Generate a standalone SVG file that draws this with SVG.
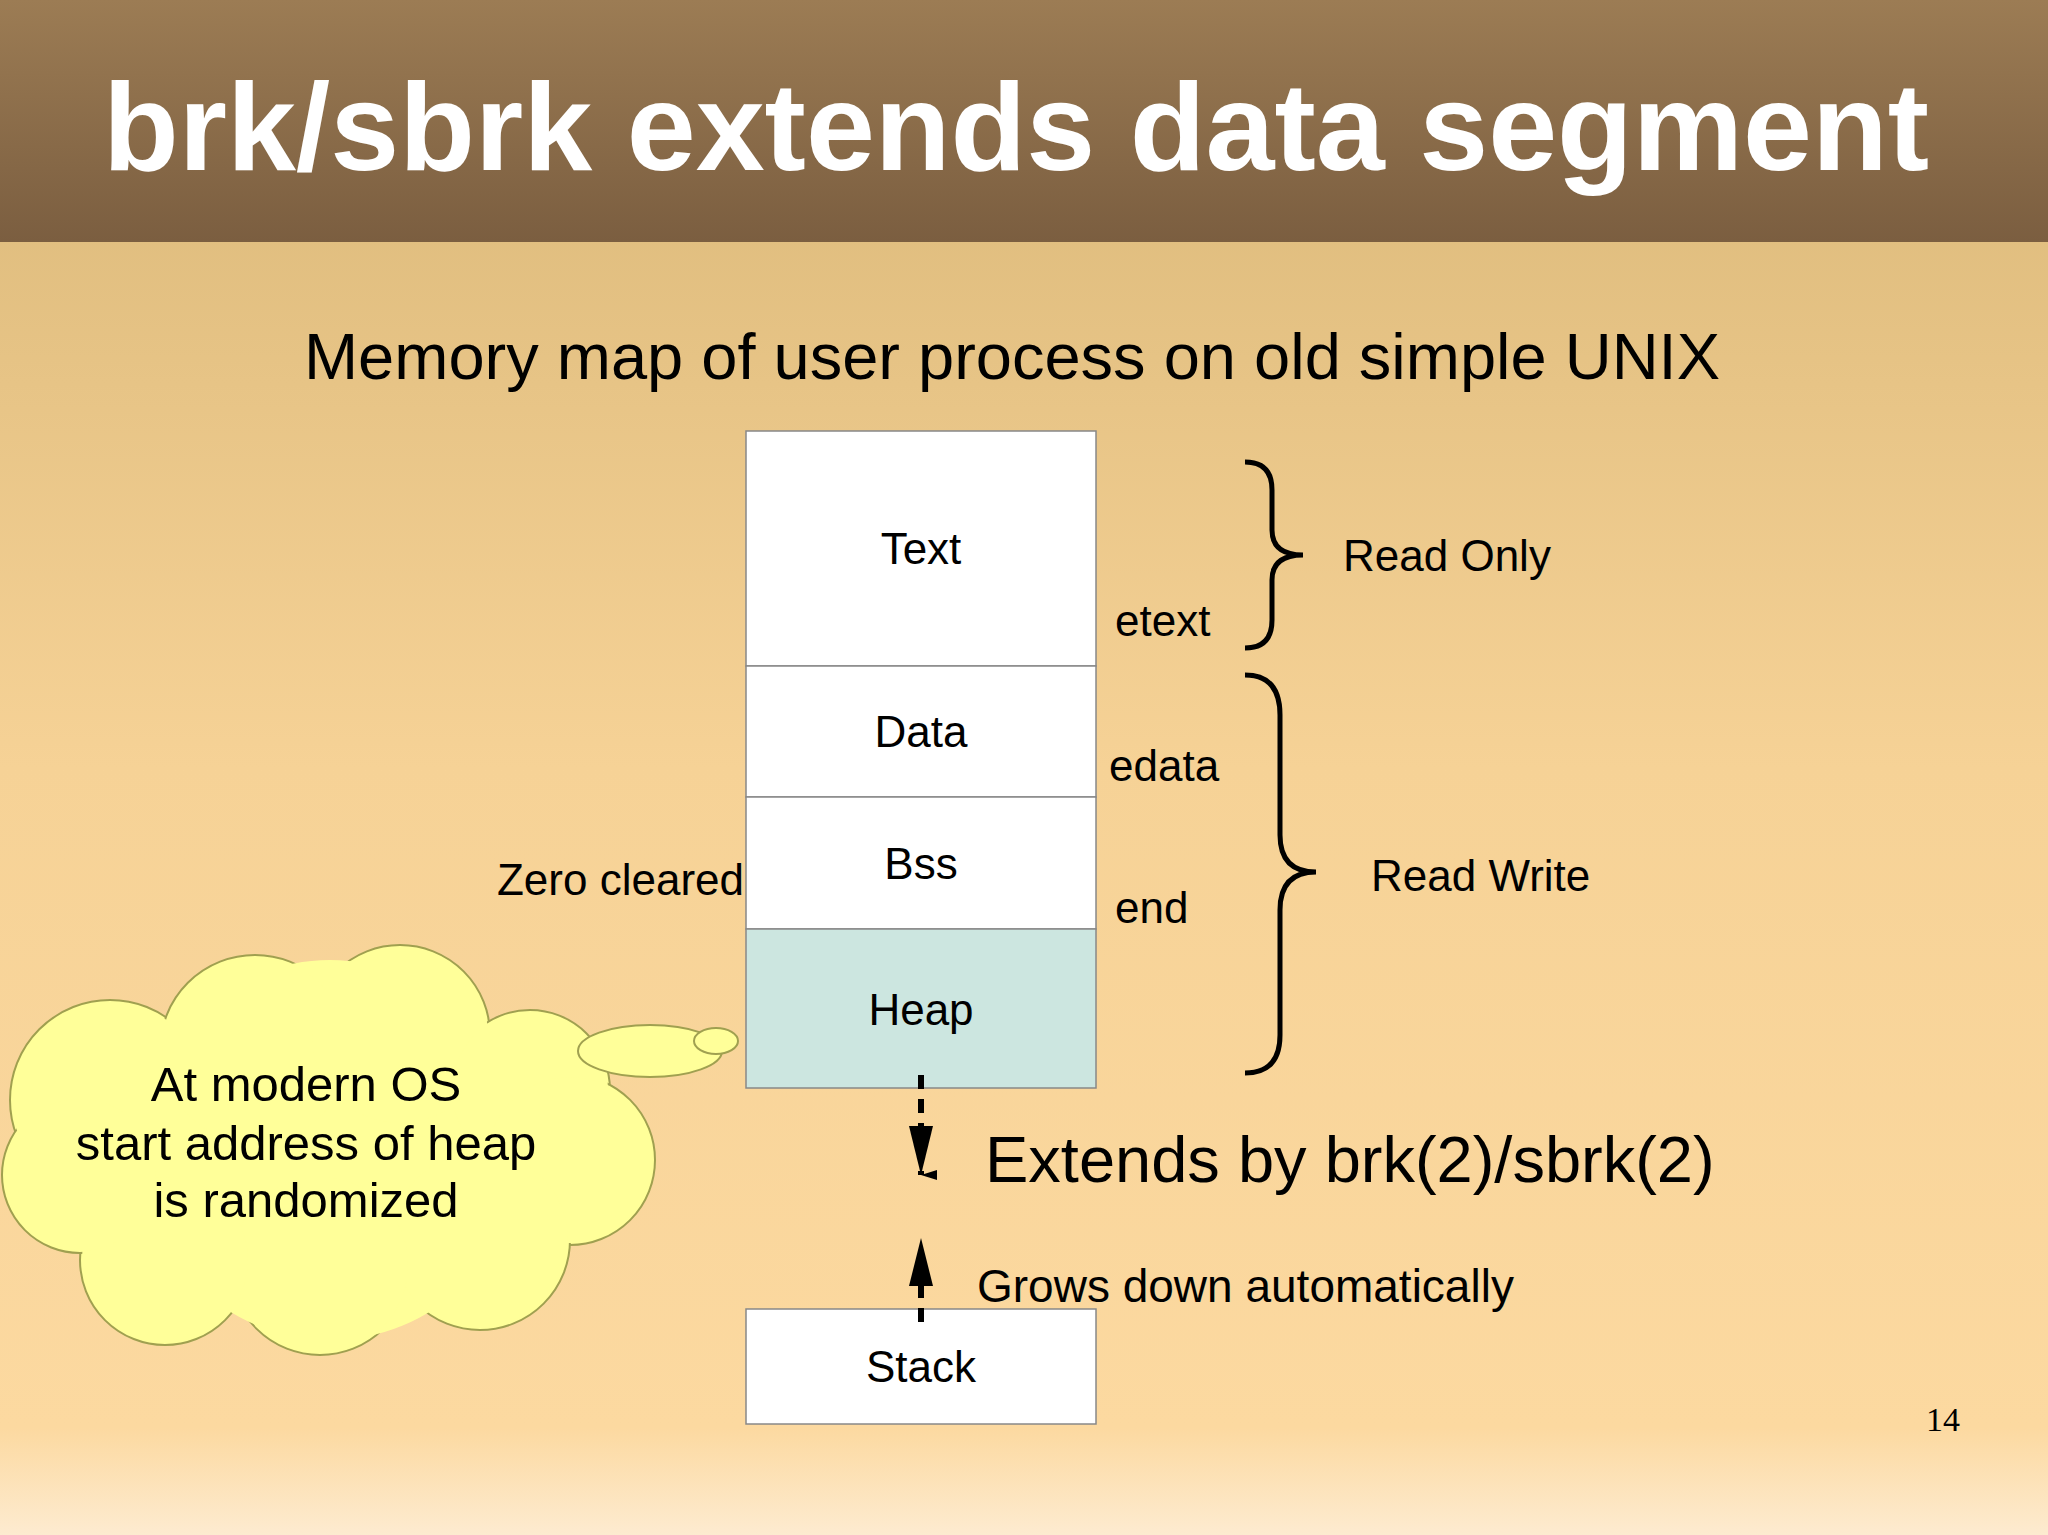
<svg xmlns="http://www.w3.org/2000/svg" width="2048" height="1535" viewBox="0 0 2048 1535">
<defs>
<linearGradient id="bg" x1="0" y1="0" x2="0" y2="1"><stop offset="0" stop-color="#d8b676"/><stop offset="0.5" stop-color="#f6d296"/><stop offset="0.93" stop-color="#fcd9a0"/><stop offset="1" stop-color="#fdebd0"/></linearGradient>
<linearGradient id="hd" x1="0" y1="0" x2="0" y2="1"><stop offset="0" stop-color="#9c7c54"/><stop offset="1" stop-color="#7b5e40"/></linearGradient>
<marker id="ah" markerWidth="10" markerHeight="16" refX="5" refY="16" orient="auto" markerUnits="userSpaceOnUse" viewBox="0 0 10 16"><path d="M0,0 L10,0 L5,16 Z" fill="#000"/></marker>
</defs>
<style>
text{font-family:"Liberation Sans",Arial,sans-serif;fill:#000}
.box{fill:#fff;stroke:#888;stroke-width:1.5}
.lbl{font-size:44px;text-anchor:middle}
.side{font-size:44px}
.br{fill:none;stroke:#000;stroke-width:5}
.cl{fill:#ffff99;stroke:#a0a050;stroke-width:2}
.cf{fill:#ffff99}
</style>
<rect width="2048" height="1535" fill="url(#bg)"/>
<rect width="2048" height="242" fill="url(#hd)"/>
<text x="1016" y="170" font-size="124" font-weight="bold" text-anchor="middle" style="fill:#fff">brk/sbrk extends data segment</text>
<text x="1012" y="379" font-size="65" text-anchor="middle">Memory map of user process on old simple UNIX</text>
<g id="text"><rect class="box" x="746" y="431" width="350" height="235"/><text class="lbl" x="921" y="564">Text</text></g>
<g id="data"><rect class="box" x="746" y="666" width="350" height="131"/><text class="lbl" x="921" y="747">Data</text></g>
<g id="bss"><rect class="box" x="746" y="797" width="350" height="132"/><text class="lbl" x="921" y="879">Bss</text></g>
<g id="heap"><rect x="746" y="929" width="350" height="159" fill="#cce6e0" stroke="#888" stroke-width="1.5"/><text class="lbl" x="921" y="1025">Heap</text></g>
<g id="stack"><rect class="box" x="746" y="1309" width="350" height="115"/><text class="lbl" x="921" y="1382">Stack</text></g>
<text class="side" x="1115" y="636">etext</text>
<text class="side" x="1109" y="781">edata</text>
<text class="side" x="1115" y="923">end</text>
<text class="side" x="744" y="895" text-anchor="end">Zero cleared</text>
<text class="side" x="1343" y="571">Read Only</text>
<text class="side" x="1371" y="891">Read Write</text>
<g id="connectors">
<path class="br" d="M1245,462 Q1272,462 1272,490 L1272,530 Q1272,555 1303,555 Q1272,555 1272,580 L1272,620 Q1272,648 1245,648"/>
<path class="br" d="M1245,675 Q1280,675 1280,715 L1280,835 Q1280,872 1316,872 Q1280,872 1280,910 L1280,1035 Q1280,1073 1245,1073"/>
<line x1="921" y1="1075" x2="921" y2="1175" stroke="#000" stroke-width="6" stroke-dasharray="14,10" marker-end="url(#ah)"/>
<path d="M909,1126 L933,1126 L921,1175 Z" fill="#000"/>
<line x1="921" y1="1322" x2="921" y2="1286" stroke="#000" stroke-width="6" stroke-dasharray="14,10"/>
<path d="M909,1286 L933,1286 L921,1238 Z" fill="#000"/>
</g>
<text x="985" y="1182" font-size="65">Extends by brk(2)/sbrk(2)</text>
<text x="977" y="1302" font-size="46">Grows down automatically</text>
<g id="cloud">
<circle class="cl" cx="110" cy="1100" r="100"/><circle class="cl" cx="255" cy="1050" r="95"/><circle class="cl" cx="400" cy="1035" r="90"/>
<circle class="cl" cx="530" cy="1090" r="80"/><circle class="cl" cx="570" cy="1160" r="85"/><circle class="cl" cx="480" cy="1240" r="90"/>
<circle class="cl" cx="320" cy="1265" r="90"/><circle class="cl" cx="165" cy="1260" r="85"/><circle class="cl" cx="80" cy="1175" r="78"/>
<circle class="cf" cx="330" cy="1150" r="190"/><circle class="cf" cx="110" cy="1100" r="98"/><circle class="cf" cx="255" cy="1050" r="93"/><circle class="cf" cx="400" cy="1035" r="88"/><circle class="cf" cx="530" cy="1090" r="78"/><circle class="cf" cx="570" cy="1160" r="83"/><circle class="cf" cx="480" cy="1240" r="88"/><circle class="cf" cx="320" cy="1265" r="88"/><circle class="cf" cx="165" cy="1260" r="83"/><circle class="cf" cx="80" cy="1175" r="76"/>
<ellipse class="cl" cx="650" cy="1051" rx="72" ry="26"/><ellipse class="cl" cx="716" cy="1041" rx="22" ry="13"/>
<text x="306" y="1101" font-size="49" text-anchor="middle">At modern OS</text>
<text x="306" y="1160" font-size="49" text-anchor="middle">start address of heap</text>
<text x="306" y="1217" font-size="49" text-anchor="middle">is randomized</text>
</g>
<text x="1926" y="1431" font-size="34" style="font-family:'Liberation Serif',serif">14</text>
</svg>
